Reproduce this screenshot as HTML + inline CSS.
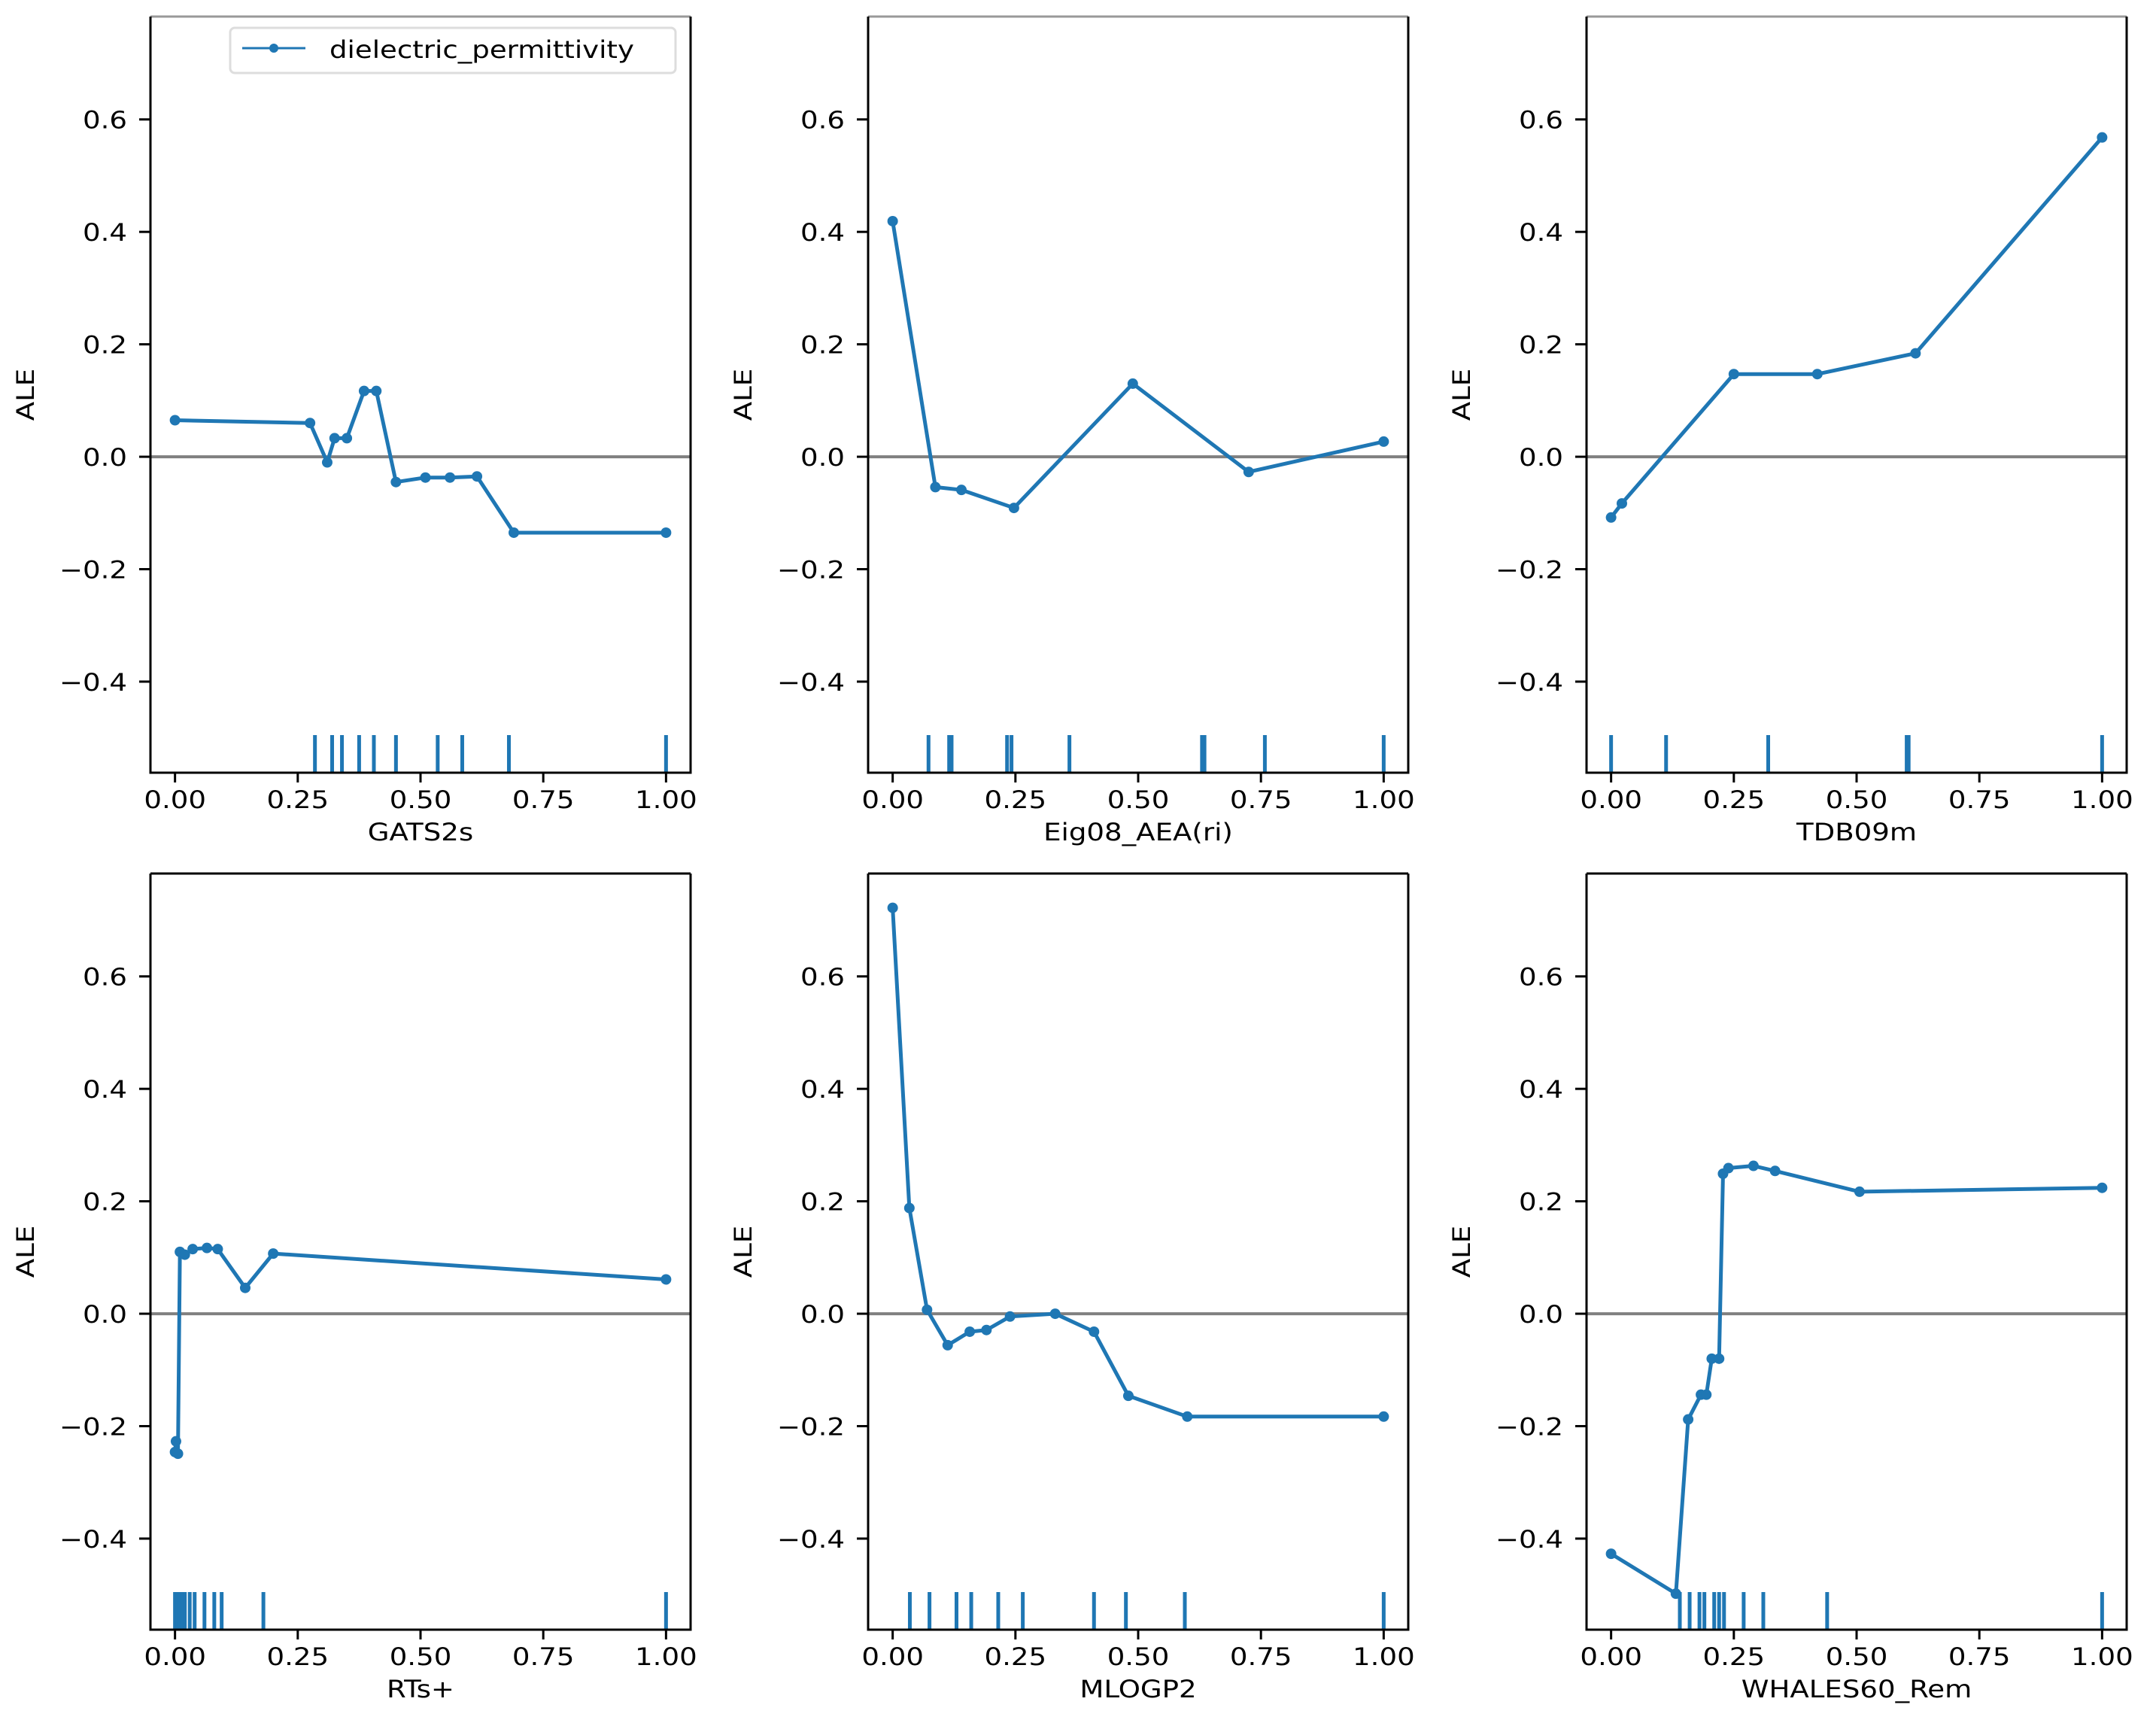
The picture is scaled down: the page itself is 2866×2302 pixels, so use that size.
<!DOCTYPE html>
<html><head><meta charset="utf-8">
<style>
html,body{margin:0;padding:0;background:#fff;}
svg{display:block;}
text{font-family:"DejaVu Sans","Liberation Sans",sans-serif;fill:#000;}
</style></head>
<body>
<svg id="chart" width="2866" height="2302" viewBox="0 0 2866 2302" xmlns="http://www.w3.org/2000/svg"></svg>
<script>
// ---- data ----
const featureNames = ["GATS2s","Eig08_AEA(ri)","TDB09m","RTs+","MLOGP2","WHALES60_Rem"];
const xTicks = [0,0.25,0.5,0.75,1.0];
const xTickLabels = ["0.00","0.25","0.50","0.75","1.00"];
const yTicks = [-0.4,-0.2,0,0.2,0.4,0.6];
const yTickLabels = ["\u22120.4","\u22120.2","0.0","0.2","0.4","0.6"];
const legendLabel = "dielectric_permittivity";

const x1 = [0.0,0.275,0.31,0.325,0.35,0.385,0.41,0.45,0.51,0.56,0.615,0.69,1.0];
const y1 = [0.065,0.06,-0.01,0.033,0.033,0.117,0.117,-0.045,-0.037,-0.037,-0.035,-0.135,-0.135];
const rug1 = [0.285,0.32,0.34,0.375,0.405,0.45,0.535,0.585,0.68,1.0];

const x2 = [0.0,0.087,0.14,0.247,0.489,0.725,1.0];
const y2 = [0.419,-0.054,-0.059,-0.091,0.13,-0.027,0.027];
const rug2 = [0.073,0.115,0.12,0.233,0.242,0.36,0.63,0.635,0.758,1.0];

const x3 = [0.0,0.022,0.25,0.42,0.62,1.0];
const y3 = [-0.108,-0.083,0.147,0.147,0.184,0.568];
const rug3 = [0.0,0.112,0.32,0.602,0.606,1.0];

const x4 = [0.0,0.002,0.006,0.01,0.02,0.036,0.065,0.087,0.143,0.2,1.0];
const y4 = [-0.246,-0.227,-0.249,0.11,0.105,0.115,0.117,0.115,0.046,0.107,0.061];
const rug4 = [0.0,0.005,0.01,0.015,0.02,0.03,0.04,0.06,0.08,0.095,0.18,1.0];

const x5 = [0.0,0.034,0.07,0.112,0.157,0.191,0.239,0.331,0.41,0.48,0.6,1.0];
const y5 = [0.722,0.188,0.007,-0.056,-0.032,-0.029,-0.005,0.0,-0.032,-0.146,-0.183,-0.183];
const rug5 = [0.035,0.075,0.13,0.16,0.215,0.265,0.41,0.475,0.595,1.0];

const x6 = [0.0,0.132,0.157,0.183,0.194,0.205,0.22,0.228,0.239,0.29,0.334,0.506,1.0];
const y6 = [-0.427,-0.498,-0.188,-0.144,-0.144,-0.08,-0.08,0.249,0.259,0.263,0.254,0.217,0.224];
const rug6 = [0.14,0.16,0.18,0.19,0.21,0.22,0.23,0.27,0.31,0.44,1.0];

const seriesX = [x1,x2,x3,x4,x5,x6];
const seriesY = [y1,y2,y3,y4,y5,y6];
const rugs = [rug1,rug2,rug3,rug4,rug5,rug6];

// ---- layout ----
const NS = "http://www.w3.org/2000/svg";
const svg = document.getElementById('chart');
const colLeft = [200,1154,2109];
const rowTop = [22,1161];
const W = 718, H = 1005;
const XMIN = -0.05, XMAX = 1.05, YMIN = -0.562, YMAX = 0.783;
const BLUE = "#1f77b4";
const SX = 1.16;

function mk(tag, attrs, parent){
  const e = document.createElementNS(NS, tag);
  for (const k in attrs) e.setAttribute(k, attrs[k]);
  (parent||svg).appendChild(e);
  return e;
}
function txt(parent, x, y, s, anchor, size, rot){
  const g = mk('g', {transform: `translate(${x},${y})` + (rot ? ` rotate(${rot})` : '') + ` scale(${SX},1)`}, parent);
  const t = mk('text', {x:0, y:0, 'font-size': size, 'text-anchor': anchor}, g);
  t.textContent = s;
  return t;
}

for (let p = 0; p < 6; p++){
  const L = colLeft[p % 3], T = rowTop[Math.floor(p / 3)];
  const xs = v => L + (v - XMIN) / (XMAX - XMIN) * W;
  const ys = v => T + (YMAX - v) / (YMAX - YMIN) * H;
  const g = mk('g', {});
  
  

  // zero line
  const z = mk('line', {x1: L, x2: L + W, y1: ys(0), y2: ys(0), stroke: '#808080', 'stroke-width': 4}, g);
  
  

  // rug
  const rg = mk('g', {}, g);
  
  
  rugs[p].forEach(v => {
    mk('line', {x1: xs(v), x2: xs(v), y1: T + H, y2: T + H - 50, stroke: BLUE, 'stroke-width': 5}, rg);
  });

  // series line
  const pts = seriesX[p].map((v, i) => xs(v) + ',' + ys(seriesY[p][i])).join(' ');
  const pl = mk('polyline', {points: pts, fill: 'none', stroke: BLUE, 'stroke-width': 5, 'stroke-linejoin': 'round'}, g);
  
  
  seriesX[p].forEach((v, i) => {
    const c = mk('circle', {cx: xs(v), cy: ys(seriesY[p][i]), r: 7, fill: BLUE}, g);
    
    
  });

  // spines
  const topSp = mk('line', {x1: L, x2: L + W, y1: T, y2: T, stroke: p < 3 ? '#999' : '#000', 'stroke-width': 3}, g);
  
  
  const fr = mk('path', {d: `M${L},${T} V${T + H} H${L + W} V${T}`, fill: 'none', stroke: '#000', 'stroke-width': 3}, g);
  
  

  // y ticks
  yTicks.forEach((v, i) => {
    const y = ys(v);
    mk('line', {x1: L - 15, x2: L, y1: y, y2: y, stroke: '#000', 'stroke-width': 3}, g);
    const t = txt(g, L - 31, y + 12, yTickLabels[i], 'end', 32);
    
    
  });
  // x ticks
  xTicks.forEach((v, i) => {
    const x = xs(v);
    mk('line', {x1: x, x2: x, y1: T + H, y2: T + H + 13, stroke: '#000', 'stroke-width': 3}, g);
    const t = txt(g, x, T + H + 47, xTickLabels[i], 'middle', 32);
    
    
  });
  const xl = txt(g, L + W / 2, T + H + 90, featureNames[p], 'middle', 32);
  
  
  const yl = txt(g, L - 155, T + H / 2, 'ALE', 'middle', 32, -90);
  
  

  if (p === 0){
    const lg = mk('g', {}, g);
    
    
    mk('rect', {x: 306, y: 37, width: 592, height: 60, rx: 6, fill: '#fff', stroke: '#ddd', 'stroke-width': 3}, lg);
    mk('line', {x1: 322, x2: 406, y1: 64, y2: 64, stroke: BLUE, 'stroke-width': 3}, lg);
    mk('circle', {cx: 364, cy: 64, r: 6, fill: BLUE}, lg);
    const lt = txt(lg, 438, 77, legendLabel, 'start', 32);
    
    
  }
}
</script>
</body></html>
